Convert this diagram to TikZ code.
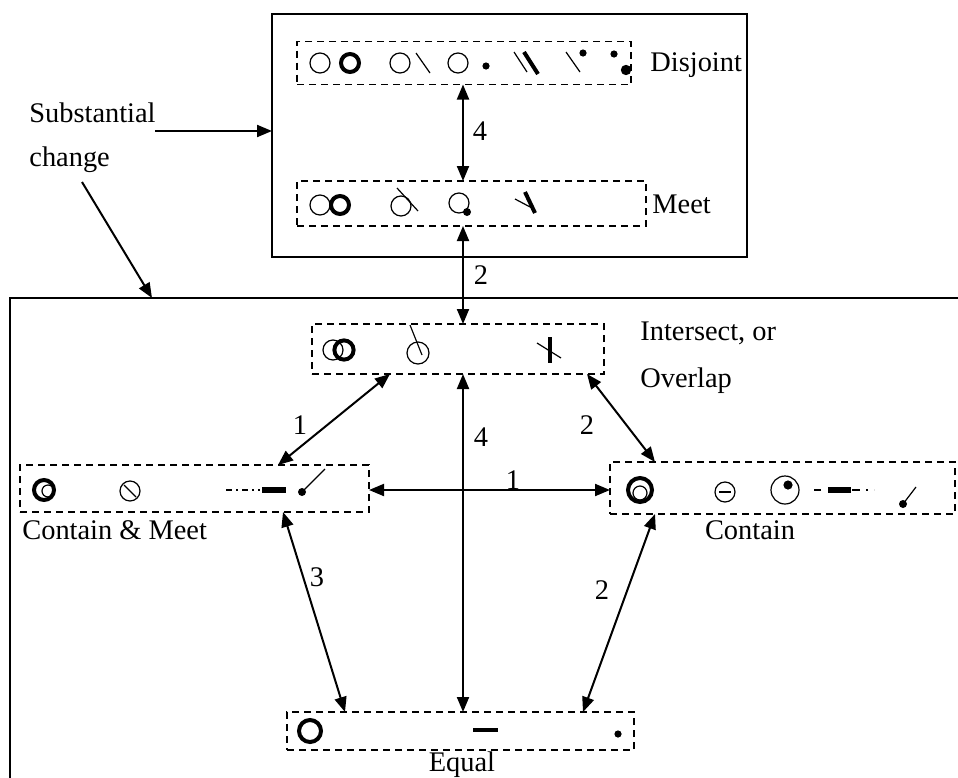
\documentclass[tikz,border=0pt]{standalone}
\usepackage{fontspec}
\setmainfont{Liberation Serif}
\usetikzlibrary{arrows.meta,calc}
\begin{document}
\begin{tikzpicture}[x=0.5pt,y=-0.5pt,
  dbox/.style={draw, dash pattern=on 3.5pt off 2.5pt, line width=0.9pt, inner sep=0pt, outer sep=0pt},
  sbox/.style={draw, line width=1pt, inner sep=0pt, outer sep=0pt},
  lbl/.style={font=\fontsize{14.2}{17}\selectfont, inner sep=0pt},
  arr/.style={line width=1pt, {Triangle[length=7.5pt,width=6pt]}-{Triangle[length=7.5pt,width=6pt]}},
  onearr/.style={line width=1pt, -{Triangle[length=7.5pt,width=6pt]}},
  thn/.style={line width=0.6pt},
  thk/.style={line width=2pt}]
\useasboundingbox (0,0) rectangle (958,777);

% boxes
\node[sbox, minimum width=237.5pt, minimum height=121.5pt] (top) at (509.5,135.5) {};
\node[dbox, minimum width=167pt, minimum height=21.5pt] (dis) at (464,63) {};
\node[dbox, minimum width=174.5pt, minimum height=22.5pt] (meet) at (471.5,203.5) {};
\node[dbox, minimum width=146pt, minimum height=25pt] (int) at (458,349) {};
\node[dbox, minimum width=174.5pt, minimum height=23.5pt] (cm) at (194.5,488.5) {};
\node[dbox, minimum width=172.5pt, minimum height=26pt] (con) at (782.5,488) {};
\node[dbox, minimum width=173.5pt, minimum height=19pt] (eq) at (460.5,731) {};

% big lower frame (cut off by the page)
\coordinate (bl) at (10,298);
\draw[line width=1pt] (960,298) -- (bl) -- (10,790);

% labels
\node[lbl, anchor=base west] (tdis) at (650,71) {Disjoint};
\node[lbl, anchor=base west] (tmeet) at (652,213) {Meet};
\node[lbl, anchor=base west] (tint) at (640,340) {Intersect, or};
\node[lbl, anchor=base west] (tov) at (640,387) {Overlap};
\node[lbl, anchor=base west] (tcm) at (22,539) {Contain \& Meet};
\node[lbl, anchor=base] (tcon) at (750,539) {Contain};
\node[lbl, anchor=base] (teq) at (462,771) {Equal};
\node[lbl, anchor=base west] (ts) at (29,122) {Substantial};
\node[lbl, anchor=base west] (tc) at (29,166) {change};

% arrows
\draw[arr] (dis.south -| 463,0) -- (meet.north -| 463,0);
\node[lbl] (n4a) at (480,131) {4};
\draw[arr] (meet.south -| 463,0) -- (int.north -| 463,0);
\node[lbl] (n2a) at (481,275) {2};
\draw[arr] ($(int.south west)+(78,0)$) -- ($(cm.north west)+(258,0)$);
\node[lbl] (n1a) at (300,425) {1};
\draw[arr] (int.south -| 463,0) -- (eq.north -| 463,0);
\node[lbl] (n4b) at (481,437) {4};
\draw[arr] ($(int.south east)+(-17,0)$) -- ($(con.north west)+(45,0)$);
\node[lbl] (n2b) at (587,425) {2};
\draw[arr] (cm.east |- 0,490) -- (con.west |- 0,490);
\node[lbl] (n1b) at (513,480) {1};
\draw[arr] ($(cm.south west)+(263,0)$) -- ($(eq.north west)+(58,0)$);
\node[lbl] (n3) at (317,577) {3};
\draw[arr] ($(con.south west)+(45,0)$) -- ($(eq.north east)+(-51,0)$);
\node[lbl] (n2c) at (602,590) {2};
\draw[onearr] (155,131) -- (top.west |- 0,131);
\draw[onearr] (82,182) -- (bl -| 152,0);

% Disjoint symbols
\draw[thn] (320,63) circle[radius=5pt];
\draw[thk] (350,63) circle[radius=4.5pt];
\draw[thn] (400,63) circle[radius=5pt];
\draw[thn] (416,53) -- (430,73);
\draw[thn] (458,63) circle[radius=5pt];
\fill (486,66) circle[radius=1.8pt];
\draw[thn] (514,52) -- (527,72);
\draw[thk] (524,52) -- (538,74);
\draw[thn] (566,52) -- (580,72);
\fill (583,53) circle[radius=1.8pt];
\fill (614,54) circle[radius=1.8pt];
\fill (626,70) circle[radius=2.6pt];

% Meet symbols
\draw[thn] (320,205) circle[radius=5pt];
\draw[thk] (340,205) circle[radius=4.5pt];
\draw[thn] (401,206) circle[radius=5pt];
\draw[thn] (397,188) -- (418,211);
\draw[thn] (459,203) circle[radius=5pt];
\fill (467,212) circle[radius=2pt];
\draw[thn] (515,199) -- (532,208);
\draw[thk] (525,192) -- (535,213);

% Intersect symbols
\draw[thn] (333,350) circle[radius=5pt];
\draw[thk] (344,350) circle[radius=4.8pt];
\draw[thn] (418,353) circle[radius=5.5pt];
\draw[thn] (410,325) -- (422,355);
\draw[thk] (550,337) -- (550,363);
\draw[thn] (537,343) -- (561,358);

% Contain & Meet symbols
\draw[thk] (44,490) circle[radius=5pt];
\draw[thn] (48,491) circle[radius=3pt];
\draw[thn] (130,491) circle[radius=5pt];
\draw[thn] (124,485) -- (136,497);
\draw[thn, dash pattern=on 3pt off 2pt on 1pt off 2pt] (226,490) -- (260,490);
\draw[line width=2.6pt] (262,490) -- (286,490);
\fill (302,492) circle[radius=2pt];
\draw[thn] (302,492) -- (325,469);

% Contain symbols
\draw[thk] (640,490) circle[radius=6pt];
\draw[thn] (640,493) circle[radius=3.5pt];
\draw[thn] (725,492) circle[radius=5pt];
\draw[thn] (719,492) -- (731,492);
\draw[thn] (785,490) circle[radius=7pt];
\fill (788,485) circle[radius=2.3pt];
\draw[thn, dash pattern=on 3.5pt off 2.5pt] (814,490) -- (826,490);
\draw[line width=2.6pt] (828,490) -- (851,490);
\draw[thn, dash pattern=on 4pt off 3pt on 1pt off 3pt] (852,490) -- (874,490);
\fill (903,504) circle[radius=2pt];
\draw[thn] (903,504) -- (916,487);

% Equal symbols
\draw[thk] (310,731) circle[radius=5.5pt];
\draw[line width=2.2pt] (473,730) -- (498,730);
\fill (618,734) circle[radius=1.8pt];
\end{tikzpicture}
\end{document}
